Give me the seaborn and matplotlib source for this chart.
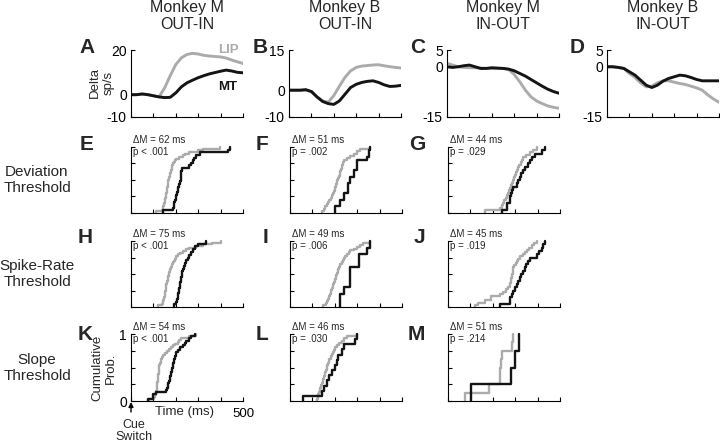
import matplotlib
matplotlib.use("Agg")
import matplotlib.pyplot as plt
import seaborn as sns

sns.set_style("ticks")
plt.rcParams['font.family'] = ['Liberation Sans', 'DejaVu Sans']

W, H = 720, 444
LIP_COLOR = '#ababab'
MT_COLOR = '#141414'

# population response (delta sp/s) vs time from cue switch (ms)
t_resp = [0, 25, 50, 75, 100, 125, 150, 175, 200, 225, 250, 275, 300, 325, 350, 375, 400, 425, 450, 475, 500]

a_lip = [0, 0, 0.3, 0, -0.5, -1, 3, 8.5, 13.5, 16.5, 18, 18.5, 18.2, 17.6, 17.3, 17.1, 16.9, 16.4, 15.5, 14.7, 14]
a_mt = [0, 0, 0.3, 0, -0.5, -1, -1.3, -1.2, 0.8, 3.5, 5.3, 6.5, 7.6, 8.5, 9.3, 9.9, 10.5, 11, 10.6, 10, 9.8]
b_lip = [0, 0, 0, 0, -0.5, -2.5, -4, -4.5, -2, 1.5, 4.8, 7.2, 8.5, 9, 9.2, 9.4, 9.5, 9.1, 8.8, 8.5, 8.3]
b_mt = [0, 0, 0, 0.2, -0.5, -2.5, -4.2, -5, -5.3, -4, -1.5, 1, 2.2, 2.9, 3.3, 3.5, 2.9, 2, 1.4, 1.5, 1.8]
c_lip = [1, 0.5, 0, -0.2, -0.3, -0.3, -0.4, -0.5, -0.5, -0.5, -0.5, -0.8, -2.3, -4.5, -7, -9, -10.2, -11, -11.7, -12.1, -12.4]
c_mt = [0, -0.2, 0, 0.3, 0.5, 0, -0.5, -0.5, -0.3, -0.4, -0.5, -0.7, -1.2, -2, -2.8, -3.8, -4.8, -5.8, -6.7, -7.4, -7.9]
d_lip = [0, 0, -0.2, -0.5, -2, -3.2, -4.8, -6, -5.8, -4.8, -4.2, -4.2, -4.6, -5, -5.3, -5.8, -6.3, -7, -8.4, -9.6, -10.6]
d_mt = [0, 0, -0.2, -0.5, -1.5, -2.5, -4, -5.5, -6.2, -5.5, -4.3, -3.5, -3, -2.5, -2.7, -3.2, -3.8, -4.2, -4.2, -4.2, -4.2]

# latencies (ms) per neuron: deviation threshold
e_lip = [112, 138, 141, 144, 147, 149, 151, 153, 154, 156, 157, 158, 159, 160, 161, 162, 163, 164, 165, 167,
         169, 171, 173, 175, 177, 179, 181, 183, 185, 187, 190, 195, 202, 216, 230, 240, 260, 300, 321, 396]
e_mt = [142, 188, 190, 193, 196, 200, 203, 206, 209, 212, 215, 218, 221, 224, 224, 224, 226, 261, 268, 276,
        282, 290, 306, 433, 440]
f_lip = [142, 150, 157, 164, 170, 176, 182, 187, 192, 196, 200, 203, 206, 209, 212, 215, 218, 221, 224, 228,
         231, 234, 237, 239, 255, 269, 285, 299, 313, 358]
f_mt = [201, 201, 224, 224, 242, 242, 257, 257, 257, 269, 269, 284, 284, 299, 299, 299, 343, 351, 351, 358]
g_lip = [164, 231, 240, 246, 252, 258, 264, 269, 274, 278, 282, 286, 291, 295, 299, 303, 308, 313, 318, 325,
         330, 336, 350, 366, 380, 396]
g_mt = [243, 264, 264, 276, 276, 280, 286, 292, 306, 312, 321, 328, 336, 345, 358, 365, 373, 388, 418, 433]

# spike-rate threshold
h_lip = [119, 140, 142, 144, 146, 148, 150, 151, 152, 153, 155, 156, 157, 158, 160, 161, 163, 165, 167, 169,
         171, 173, 175, 178, 181, 184, 187, 191, 195, 199, 203, 210, 220, 231, 245, 261, 290, 321, 360, 403]
h_mt = [194, 200, 205, 209, 212, 214, 216, 218, 220, 222, 224, 227, 229, 231, 235, 239, 246, 254, 260, 269,
        277, 284, 299, 336]
i_lip = [149, 160, 164, 168, 172, 175, 178, 181, 184, 187, 190, 193, 196, 199, 201, 204, 207, 210, 213, 216,
         219, 222, 225, 230, 235, 240, 246, 254, 262, 269, 284, 299, 314, 328, 358]
i_mt = [225, 225, 242, 270, 270, 270, 306, 306, 343, 358]
j_lip = [119, 134, 164, 190, 194, 231, 245, 261, 270, 276, 278, 280, 282, 284, 286, 288, 290, 291, 296, 302,
         308, 313, 323, 333, 343, 353, 363, 373, 385, 396]
j_mt = [231, 276, 276, 285, 291, 300, 306, 313, 320, 328, 335, 343, 350, 358, 366, 396, 405, 418, 425, 433]

# slope threshold
k_lip = [82, 104, 108, 111, 113, 114, 115, 116, 117, 118, 119, 120, 121, 122, 123, 124, 125, 126, 127, 129,
         132, 135, 138, 142, 150, 160, 170, 180, 187, 197, 209, 216, 224, 260, 291]
k_mt = [75, 97, 97, 112, 157, 160, 163, 166, 169, 172, 175, 178, 180, 182, 184, 186, 187, 190, 193, 196,
        199, 201, 210, 220, 231, 240, 246, 260, 269, 284]
l_lip = [119, 124, 127, 130, 132, 134, 138, 142, 146, 149, 152, 155, 158, 161, 164, 167, 170, 172, 176, 181,
         186, 191, 196, 201, 210, 220, 231, 242, 254, 299]
l_mt = [60, 142, 150, 164, 175, 187, 201, 208, 216, 231, 242, 290, 299]
m_lip = [77, 185, 230, 232, 236, 240, 285, 290]
m_mt = [104, 282, 300, 315]

col_titles = ['Monkey M\nOUT-IN', 'Monkey B\nOUT-IN', 'Monkey M\nIN-OUT', 'Monkey B\nIN-OUT']
row_titles = ['Deviation\nThreshold', 'Spike-Rate\nThreshold', 'Slope\nThreshold']
dm_labels = ['ΔM = 62 ms', 'ΔM = 51 ms', 'ΔM = 44 ms',
             'ΔM = 75 ms', 'ΔM = 49 ms', 'ΔM = 45 ms',
             'ΔM = 54 ms', 'ΔM = 46 ms', 'ΔM = 51 ms']
p_labels = ['p < .001', 'p = .002', 'p = .029',
            'p < .001', 'p = .006', 'p = .019',
            'p < .001', 'p = .030', 'p = .214']

fig = plt.figure(figsize=(7.2, 4.44), dpi=100)


def add_ax(left, top, w=112, h=67):
    return fig.add_axes([left / W, 1 - (top + h) / H, w / W, h / H])


def ftext(x, y, s, **kw):
    return fig.text(x / W, 1 - y / H, s, **kw)


def style(ax):
    for s in ['top', 'right']:
        ax.spines[s].set_visible(False)
    for s in ['left', 'bottom']:
        ax.spines[s].set_color('black')
        ax.spines[s].set_linewidth(0.8)
    ax.tick_params(direction='in', length=3, width=0.8, labelsize=10, pad=3, colors='black')
    ax.set_xlim(0, 500)
    ax.set_xticks([0, 100, 200, 300, 400, 500])
    ax.set_xticklabels([])
    ax.set_xlabel('')
    ax.set_ylabel('')


# ---- top row: population responses
top_lefts = [131, 289, 447, 607]
resp = [(a_lip, a_mt, (-10, 20), [-10, 0, 20]),
        (b_lip, b_mt, (-10, 15), [-10, 0, 15]),
        (c_lip, c_mt, (-15, 5), [-15, 0, 5]),
        (d_lip, d_mt, (-15, 5), [-15, 0, 5])]
letter_right_top = [95, 268, 425, 585]
for i, (lip, mt, ylim, yt) in enumerate(resp):
    ax = add_ax(top_lefts[i], 50, h=67)
    sns.lineplot(x=t_resp, y=lip, ax=ax, color=LIP_COLOR, linewidth=2.1)
    sns.lineplot(x=t_resp, y=mt, ax=ax, color=MT_COLOR, linewidth=2.1)
    style(ax)
    ax.set_ylim(*ylim)
    ax.set_yticks(yt)
    ax.set_yticklabels([str(v) for v in yt])
    ftext(top_lefts[i] + 56, 16, col_titles[i], ha='center', va='center', fontsize=11.5, linespacing=1.1)
    ftext(letter_right_top[i], 53, 'ABCD'[i], ha='right', va='baseline', fontsize=15, fontweight='bold')
    if i == 0:
        ftext(218, 53, 'LIP', color=LIP_COLOR, fontsize=9.5, fontweight='bold', va='baseline')
        ftext(218, 90, 'MT', color=MT_COLOR, fontsize=9.5, fontweight='bold', va='baseline')
        ftext(102, 83, 'Delta\nsp/s', rotation=90, ha='center', va='center', fontsize=9.5, linespacing=1.15)

# ---- CDF panels
cdf_lefts = [131, 290, 448]
cdf_tops = [147, 241, 334]
cdf_heights = [66, 66, 67]
letter_right_cdf = [93, 268, 425]
letter_base = [150, 243, 340]
row_centers = [180, 274, 368]
cdf_data = [[(e_lip, e_mt), (f_lip, f_mt), (g_lip, g_mt)],
            [(h_lip, h_mt), (i_lip, i_mt), (j_lip, j_mt)],
            [(k_lip, k_mt), (l_lip, l_mt), (m_lip, m_mt)]]
letters = ['EFG', 'HIJ', 'KLM']
for r in range(3):
    ftext(37, row_centers[r], row_titles[r], ha='center', va='center', fontsize=11, linespacing=1.15)
    for c in range(3):
        lip, mt = cdf_data[r][c]
        hgt = cdf_heights[r]
        ax = add_ax(cdf_lefts[c], cdf_tops[r], h=hgt)
        sns.ecdfplot(x=lip, ax=ax, color=LIP_COLOR, linewidth=1.7)
        sns.ecdfplot(x=mt, ax=ax, color=MT_COLOR, linewidth=1.7)
        for ln in ax.lines:
            ln.set_clip_on(False)
        style(ax)
        ax.set_ylim(0, 1)
        ax.set_yticks([0, 0.25, 0.5, 0.75, 1])
        ax.set_yticklabels([])
        idx = r * 3 + c
        ax.text(2 / 112, 1 + 4 / hgt, dm_labels[idx], transform=ax.transAxes, fontsize=7, va='baseline')
        ax.text(2 / 112, 1 - 8 / hgt, p_labels[idx], transform=ax.transAxes, fontsize=7, va='baseline')
        ftext(letter_right_cdf[c], letter_base[r], letters[r][c], ha='right', va='baseline',
              fontsize=15, fontweight='bold')
        if r == 2 and c == 0:
            ax.set_yticklabels(['0', '', '', '', '1'])
            ax.set_xticklabels(['', '', '', '', '', '500'])
            ax.tick_params(axis='x', labelsize=9.5, pad=5)
            ftext(104, 368, 'Cumulative\nProb.', rotation=90, ha='center', va='center',
                  fontsize=9.5, linespacing=1.1)
            ftext(185, 412, 'Time (ms)', ha='center', va='center', fontsize=9.5)
            ftext(134, 431, 'Cue\nSwitch', ha='center', va='center', fontsize=9, linespacing=1.1)
            ax.annotate('', xy=(131, H - 402), xytext=(131, H - 412),
                        xycoords='figure pixels', textcoords='figure pixels',
                        arrowprops=dict(arrowstyle='-|>', color='black', lw=1, mutation_scale=7,
                                        shrinkA=0, shrinkB=0))

fig.savefig('out.png', dpi=100)
